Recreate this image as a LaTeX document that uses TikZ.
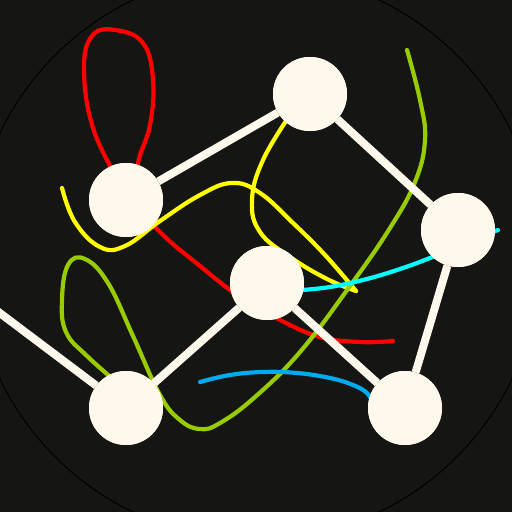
\documentclass[tikz,border=0pt]{standalone}
\usetikzlibrary{calc}
\definecolor{bg}{HTML}{151513}
\definecolor{nodefill}{HTML}{FFF9ED}
\definecolor{cred}{HTML}{FF0000}
\definecolor{cyellow}{HTML}{FFFF00}
\definecolor{cgreen}{HTML}{99CC00}
\definecolor{ccyan}{HTML}{00FFFF}
\definecolor{cblue}{HTML}{00AAEE}
\begin{document}
\begin{tikzpicture}[x=1pt,y=-1pt,
  vertex/.style={circle,fill=nodefill,draw=none,minimum size=74pt,inner sep=0pt},
  link/.style={draw=nodefill,line width=8pt},
  strand/.style={line width=4.2pt,line cap=round,line join=round}]
\useasboundingbox (0,0) rectangle (512,512);
\clip (0,0) rectangle (512,512);
\fill[bg] (0,0) rectangle (512,512);
\draw[black,line width=1pt] (256,256) circle[radius=284pt];

% node positions
\coordinate (p1) at (126,200);
\coordinate (p2) at (310,94);
\coordinate (p3) at (458,230);
\coordinate (p4) at (267,283);
\coordinate (p5) at (126,408);
\coordinate (p6) at (405,408);
\coordinate (off) at (-40,283);

% curves
\draw[strand,cred] plot[smooth,tension=0.7] coordinates{(118,180) (93,128) (84,70) (92,36) (115,30) (143,43) (153,80) (150,125) (138,163) (135,200) (160,232) (200,266) (240,297) (280,320) (320,337) (360,342) (393,341)};
\draw[strand,cyellow] plot[smooth,tension=0.7] coordinates{(62,188) (75,222) (100,247) (125,246) (160,221) (200,195) (232,183) (260,193) (293,223) (325,255) (356,291)};
\draw[strand,cyellow] plot[smooth,tension=0.7] coordinates{(356,291) (327,279) (290,257) (260,232) (252,200) (263,160) (290,115)};
\draw[strand,cgreen] plot[smooth,tension=0.7] coordinates{(407,50) (420,100) (425,140) (415,182) (390,228) (350,286) (300,352) (255,397) (220,423) (200,429) (180,420) (160,395) (133,336) (108,283) (85,259) (68,265) (62,300) (66,332) (87,356) (120,385)};
\draw[strand,ccyan] plot[smooth,tension=0.7] coordinates{(302,290) (330,287) (363,280) (397,270) (430,258) (460,245) (498,230)};
\draw[strand,cblue] plot[smooth,tension=0.7] coordinates{(200,382) (230,375) (263,372) (297,373) (330,378) (353,385) (367,393) (372,402)};

% nodes
\node[vertex] (n1) at (p1) {};
\node[vertex] (n2) at (p2) {};
\node[vertex] (n3) at (p3) {};
\node[vertex] (n4) at (p4) {};
\node[vertex] (n5) at (p5) {};
\node[vertex] (n6) at (p6) {};

% edges
\path[link] (n1) -- (n2);
\path[link] (n2) -- (n3);
\path[link] (n3) -- (n6);
\path[link] (n4) -- (n5);
\path[link] (n4) -- (n6);
\path[link] (n5) -- (off);

% redraw nodes on top
\node[vertex] at (p1) {};
\node[vertex] at (p2) {};
\node[vertex] at (p3) {};
\node[vertex] at (p4) {};
\node[vertex] at (p5) {};
\node[vertex] at (p6) {};
\end{tikzpicture}
\end{document}
